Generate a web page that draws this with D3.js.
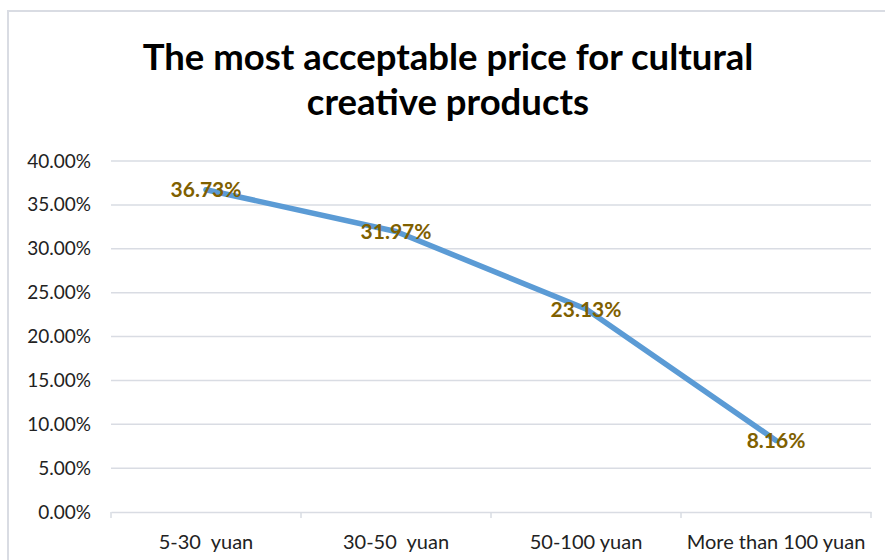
<!DOCTYPE html>
<html>
<head>
<meta charset="utf-8">
<script src="https://cdn.jsdelivr.net/npm/d3@7"></script>
<style>
  body { margin: 0; background: #fff; }
  svg { display: block; }
  .tick text { white-space: pre; }
</style>
</head>
<body>
<div id="chart"></div>
<script>
// data
const categories = ["5-30  yuan", "30-50  yuan", "50-100 yuan", "More than 100 yuan"];
const values = [36.73, 31.97, 23.13, 8.16];
const yTicks = [0, 5, 10, 15, 20, 25, 30, 35, 40];
const titleLines = ["The most acceptable price for cultural", "creative products"];

const W = 885, H = 560;
const font = "Lato, 'Open Sans', sans-serif";

const svg = d3.select("#chart").append("svg")
    .attr("width", W)
    .attr("height", H);

// chart area border (only top/left visible in the crop)
svg.append("rect")
    .attr("x", 8).attr("y", 11)
    .attr("width", W + 20).attr("height", H + 20)
    .attr("fill", "#fff")
    .attr("stroke", "#D9DCE3")
    .attr("stroke-width", 2);

// title
svg.append("g").selectAll("text")
    .data(titleLines)
    .enter().append("text")
    .attr("x", 448)
    .attr("y", (d, i) => 70 + i * 45)
    .attr("text-anchor", "middle")
    .style("font-family", font)
    .style("font-weight", "bold")
    .style("font-size", "36.5px")
    .style("fill", "#000")
    .text(d => d);

const x = d3.scaleBand()
    .domain(categories)
    .range([111, 871]);

const y = d3.scaleLinear()
    .domain([0, 40])
    .range([512, 161]);

// gridlines
svg.append("g").selectAll("line")
    .data(yTicks.filter(d => d > 0))
    .enter().append("line")
    .attr("x1", 111).attr("x2", 871)
    .attr("y1", d => y(d)).attr("y2", d => y(d))
    .attr("stroke", "#D9DCE3")
    .attr("stroke-width", 1.5);

// y axis (labels only)
const yAxis = d3.axisLeft(y)
    .tickValues(yTicks)
    .tickSize(0)
    .tickPadding(20)
    .tickFormat(d => d.toFixed(2) + "%");

svg.append("g")
    .attr("transform", "translate(111,0)")
    .call(yAxis)
    .call(g => g.select(".domain").remove())
    .selectAll("text")
    .style("font-family", font)
    .style("font-size", "19px")
    .style("fill", "#222");

// x axis
const xAxis = d3.axisBottom(x)
    .tickSize(0)
    .tickPadding(23);

const gx = svg.append("g")
    .attr("transform", "translate(0,512)")
    .call(xAxis);
gx.select(".domain").attr("stroke", "#D9DCE3").attr("stroke-width", 1.5);
gx.selectAll("text")
    .style("font-family", font)
    .style("font-size", "20px")
    .style("fill", "#222");

// category separators
svg.append("g").selectAll("line")
    .data(d3.range(categories.length + 1))
    .enter().append("line")
    .attr("x1", i => 111 + i * x.bandwidth())
    .attr("x2", i => 111 + i * x.bandwidth())
    .attr("y1", 512).attr("y2", 518)
    .attr("stroke", "#D9DCE3")
    .attr("stroke-width", 1.5);

// line
const line = d3.line()
    .x((d, i) => x(categories[i]) + x.bandwidth() / 2)
    .y(d => y(d));

svg.append("path")
    .datum(values)
    .attr("d", line)
    .attr("fill", "none")
    .attr("stroke", "#5B9BD5")
    .attr("stroke-width", 5.5)
    .attr("stroke-linecap", "round")
    .attr("stroke-linejoin", "round");

// data labels
svg.append("g").selectAll("text")
    .data(values)
    .enter().append("text")
    .attr("x", (d, i) => x(categories[i]) + x.bandwidth() / 2)
    .attr("y", d => y(d))
    .attr("dy", "0.36em")
    .attr("text-anchor", "middle")
    .style("font-family", font)
    .style("font-weight", "bold")
    .style("font-size", "21px")
    .style("fill", "#7F6000")
    .text(d => d.toFixed(2) + "%");
</script>
</body>
</html>
